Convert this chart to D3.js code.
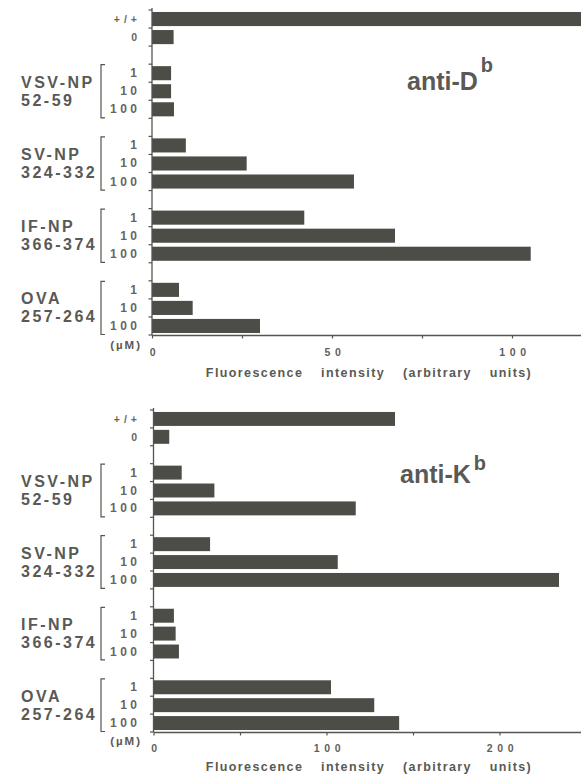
<!DOCTYPE html>
<html>
<head>
<meta charset="utf-8">
<script src="https://cdn.jsdelivr.net/npm/d3@7"></script>
<style>
  html, body { margin: 0; padding: 0; background: #fff; }
  svg { display: block; }
  text { font-family: "Liberation Sans", Arial, Helvetica, sans-serif; fill: #595955; }
</style>
</head>
<body>
<svg id="chart" width="581" height="775"></svg>
<script>
// Row categories
const controls = ["+/+", "0"];
const peptides = ["VSV-NP", "SV-NP", "IF-NP", "OVA"];
const residues = ["52-59", "324-332", "366-374", "257-264"];
const doses = ["1", "10", "100"];
const doseUnit = "(\u00b5M)";

// Fluorescence intensity, in row order: +/+, 0, then 1/10/100 µM for each peptide
const antiDbValues = [125, 6.0, 5.3, 5.3, 6.1, 9.4, 26.3, 56.1, 42.3, 67.5, 105.2, 7.5, 11.3, 30.0];
const antiKbValues = [139.6, 9.1, 16.3, 35.2, 116.9, 32.7, 106.5, 234.4, 11.8, 12.8, 14.7, 102.6, 127.6, 142.0];

// Axis ticks
const antiDbTickLabels = [0, 50, 100];
const antiKbTickLabels = [0, 100, 200];
const axisTitle = "Fluorescence intensity (arbitrary units)";

const W = 581;
const svg = d3.select("#chart");
const barColor = "#4d4d47";
const inkColor = "#55554f";

// Row layout: controls, spacer, then three doses per peptide separated by spacers
const rows = [];
controls.forEach((c, i) => rows.push({ key: "c" + i, label: c, kind: "control" }));
peptides.forEach((p, pi) => {
  rows.push({ key: "gap" + pi, kind: "gap" });
  doses.forEach((d, di) => rows.push({ key: "p" + pi + "d" + di, label: d, kind: "dose", group: pi }));
});
const dataRows = rows.filter(r => r.kind !== "gap");

function drawPanel(cfg) {
  const values = cfg.values;
  const g = svg.append("g");

  const x = d3.scaleLinear()
    .domain([0, (W - cfg.x0) / cfg.pxPerUnit])
    .range([cfg.x0, W]);

  const pad = 0.22;
  const y = d3.scaleBand()
    .domain(rows.map(r => r.key))
    .range([cfg.top, cfg.bottom])
    .paddingInner(pad)
    .paddingOuter(pad / 2);
  const step = y.step();
  const rowStart = k => y(k) - step * pad / 2;

  // bars
  g.append("g").selectAll("rect")
    .data(dataRows.map((r, i) => ({ row: r, v: values[i] })))
    .join("rect")
    .attr("x", x(0))
    .attr("y", d => y(d.row.key))
    .attr("width", d => x(d.v) - x(0))
    .attr("height", y.bandwidth())
    .attr("fill", barColor);

  // vertical axis with ticks at every row boundary
  g.append("line")
    .attr("x1", x(0)).attr("x2", x(0))
    .attr("y1", cfg.top - 2).attr("y2", cfg.bottom)
    .attr("stroke", inkColor).attr("stroke-width", 1.3);
  g.append("g").selectAll("line")
    .data(d3.range(rows.length + 1))
    .join("line")
    .attr("x1", x(0) - 3.5).attr("x2", x(0))
    .attr("y1", i => cfg.top + i * step).attr("y2", i => cfg.top + i * step)
    .attr("stroke", inkColor).attr("stroke-width", 1.2);

  // horizontal axis
  const xAxis = d3.axisBottom(x)
    .tickValues(d3.range(0, x.domain()[1], cfg.tickStep))
    .tickSize(3.5)
    .tickSizeOuter(0)
    .tickFormat(d => cfg.tickLabels.includes(d) ? String(d) : "");
  const ax = g.append("g")
    .attr("transform", `translate(0,${cfg.bottom})`)
    .call(xAxis);
  ax.select(".domain").attr("stroke", inkColor).attr("stroke-width", 1.3);
  ax.selectAll(".tick line").attr("stroke", inkColor).attr("stroke-width", 1.2);
  ax.selectAll(".tick text")
    .attr("y", cfg.tickLabelDy)
    .attr("dy", 0)
    .attr("dx", 2.4)
    .style("font-size", "10.5px")
    .style("font-weight", "bold")
    .style("letter-spacing", "4.6px")
    .style("fill", "#5f5f5a");

  // unit label
  g.append("text")
    .attr("x", 142).attr("y", cfg.bottom + cfg.unitDy)
    .attr("text-anchor", "end")
    .style("font-size", "11.5px")
    .style("font-weight", "bold")
    .style("letter-spacing", "2px")
    .text(doseUnit);

  // axis title
  g.append("text")
    .attr("x", 369).attr("y", cfg.titleY)
    .attr("text-anchor", "middle")
    .style("font-size", "12.5px")
    .style("font-weight", "bold")
    .style("letter-spacing", "1.4px")
    .style("word-spacing", "13px")
    .text(axisTitle);

  // row labels (controls and doses)
  g.append("g").selectAll("text")
    .data(dataRows)
    .join("text")
    .attr("x", r => r.kind === "control" ? 141 : 140.5)
    .attr("y", r => y(r.key) + y.bandwidth() / 2)
    .attr("dominant-baseline", "central")
    .attr("text-anchor", "end")
    .style("font-size", r => r.kind === "control" ? "10.5px" : "12px")
    .style("font-weight", "bold")
    .style("letter-spacing", r => r.kind === "control" ? "4px" : "3.5px")
    .style("fill", "#66665f")
    .text(r => r.label);

  // peptide groups: bracket and two-line name
  peptides.forEach((p, pi) => {
    const first = "p" + pi + "d0", last = "p" + pi + "d2";
    const y0 = rowStart(first) + 0.5, y1 = rowStart(last) + step - 0.5;
    g.append("path")
      .attr("d", `M105,${y0}H101V${y1}H105`)
      .attr("fill", "none")
      .attr("stroke", inkColor)
      .attr("stroke-width", 1.2);
    const mid = (y0 + y1) / 2;
    [p, residues[pi]].forEach((t, li) => {
      g.append("text")
        .attr("x", 21)
        .attr("y", mid + (li === 0 ? -step / 2 : step / 2))
        .attr("dominant-baseline", "central")
        .style("font-size", "16px")
        .style("font-weight", "bold")
        .style("letter-spacing", "2.5px")
        .text(t);
    });
  });

  // panel title with superscript
  const t = g.append("text")
    .attr("x", cfg.labelX).attr("y", cfg.labelY)
    .style("font-size", "25px")
    .style("font-weight", "bold");
  t.append("tspan").text(cfg.label);
  t.append("tspan")
    .attr("dx", 3).attr("dy", cfg.supDy)
    .style("font-size", "20px")
    .text("b");
}

drawPanel({
  values: antiDbValues, top: 10, bottom: 335, x0: 152, pxPerUnit: 3.6,
  tickStep: 25, tickLabels: antiDbTickLabels, tickLabelDy: 21, unitDy: 14,
  titleY: 377, label: "anti-D", labelX: 407, labelY: 90, supDy: -18
});
drawPanel({
  values: antiKbValues, top: 410, bottom: 732, x0: 153.5, pxPerUnit: 1.73,
  tickStep: 50, tickLabels: antiKbTickLabels, tickLabelDy: 20, unitDy: 13,
  titleY: 770.5, label: "anti-K", labelX: 400, labelY: 483, supDy: -13
});
</script>
</body>
</html>
